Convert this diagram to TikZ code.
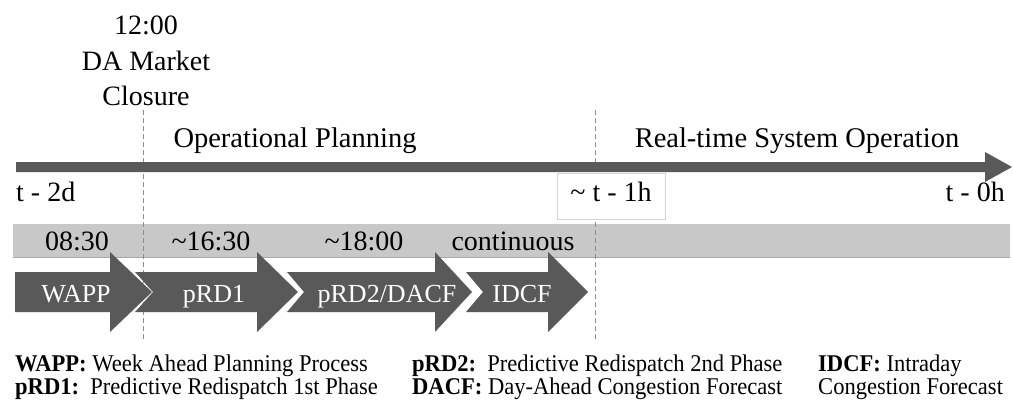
\documentclass[tikz,border=0pt]{standalone}
\usepackage{fontspec}
\setmainfont{Liberation Serif}
\newfontfamily\legfont{Liberation Serif}[FakeStretch=0.94]
\definecolor{dark}{HTML}{595959}
\definecolor{band}{HTML}{C8C8C8}
\definecolor{bandedge}{HTML}{A8A8A8}
\definecolor{dashgray}{HTML}{8C8C8C}
\definecolor{boxgray}{HTML}{D4D4D4}
\begin{document}
\begin{tikzpicture}[x=1pt,y=-1pt,
  lbl/.style={font=\fontsize{28}{35}\selectfont, inner sep=0pt, anchor=base},
  albl/.style={font=\fontsize{26}{30}\selectfont, text=white, inner sep=0pt, anchor=base},
  leg/.style={font=\legfont\fontsize{24}{23}\selectfont, inner sep=0pt, align=left, anchor=base west},
  chev/.style={fill=dark, draw=none},
  vdash/.style={draw=dashgray, line width=0.8pt, dash pattern=on 5pt off 3pt}]
\useasboundingbox (0,0) rectangle (1013,404);

% grey band of times
\fill[band] (13,224) rectangle (1010,257);
\draw[bandedge, line width=1pt] (13,257) -- (1010,257);

% dashed markers
\coordinate (d1top) at (143,110);
\coordinate (d1bot) at (143,340);
\coordinate (d2top) at (595,110);
\coordinate (d2bot) at (595,340);
\draw[vdash] (d1top) -- (d1bot);
\draw[vdash] (d2top) -- (d2bot);

% timeline arrow
\fill[dark] (16,162) -- (985,162) -- (985,152) -- (1012,167) -- (985,182)
  -- (985,172) -- (16,172) -- cycle;

% process chevrons
\fill[chev] (15,272) -- (110,272) -- (110,252) -- (152,292) -- (110,332)
  -- (110,312) -- (15,312) -- cycle;
\fill[chev] (135,272) -- (257,272) -- (257,252) -- (298,292) -- (257,332)
  -- (257,312) -- (135,312) -- (153,292) -- cycle;
\fill[chev] (287,272) -- (435,272) -- (435,252) -- (472,292) -- (435,332)
  -- (435,312) -- (287,312) -- (304,292) -- cycle;
\fill[chev] (466,272) -- (548,272) -- (548,252) -- (588,292) -- (548,332)
  -- (548,312) -- (466,312) -- (483,292) -- cycle;

% top labels
\node[lbl] (t1200) at (146,35) {12:00};
\node[lbl] (damarket) at (146,71) {DA Market};
\node[lbl] (closure) at (146,106) {Closure};
\node[lbl, font=\fontsize{28.5}{35}\selectfont] (opplan) at (295,147) {Operational Planning};
\node[lbl, font=\fontsize{28.5}{35}\selectfont] (realtime) at (797,147) {Real-time System Operation};

% timeline labels
\node[lbl, anchor=base west] (t2d) at (16,201) {t - 2d};
\draw[boxgray, fill=white, line width=1pt] (557,173) rectangle (665,219);
\node[lbl] (t1h) at (611,201) {\textasciitilde{} t - 1h};
\node[lbl, anchor=base east] (t0h) at (1005,201) {t - 0h};

% band labels
\node[lbl] (b1) at (77,250) {08:30};
\node[lbl] (b2) at (211,250) {\textasciitilde16:30};
\node[lbl] (b3) at (364,250) {\textasciitilde18:00};
\node[lbl] (b4) at (513,250) {continuous};

% chevron labels
\node[albl] (wapp) at (76,302) {WAPP};
\node[albl] (prd1) at (214,302) {pRD1};
\node[albl] (prd2) at (387,302) {pRD2/DACF};
\node[albl] (idcf) at (522,302) {IDCF};

% legend (anchor base = baseline of last line)
\node[leg] (leg1) at (15,394) {\textbf{WAPP:} Week Ahead Planning Process\\
  \textbf{pRD1:}\ \ Predictive Redispatch 1st Phase};
\node[leg] (leg2) at (412,394) {\textbf{pRD2:}\ \ Predictive Redispatch 2nd Phase\\
  \textbf{DACF:} Day-Ahead Congestion Forecast};
\node[leg] (leg3) at (818,394) {\textbf{IDCF:} Intraday\\Congestion Forecast};
\end{tikzpicture}
\end{document}
